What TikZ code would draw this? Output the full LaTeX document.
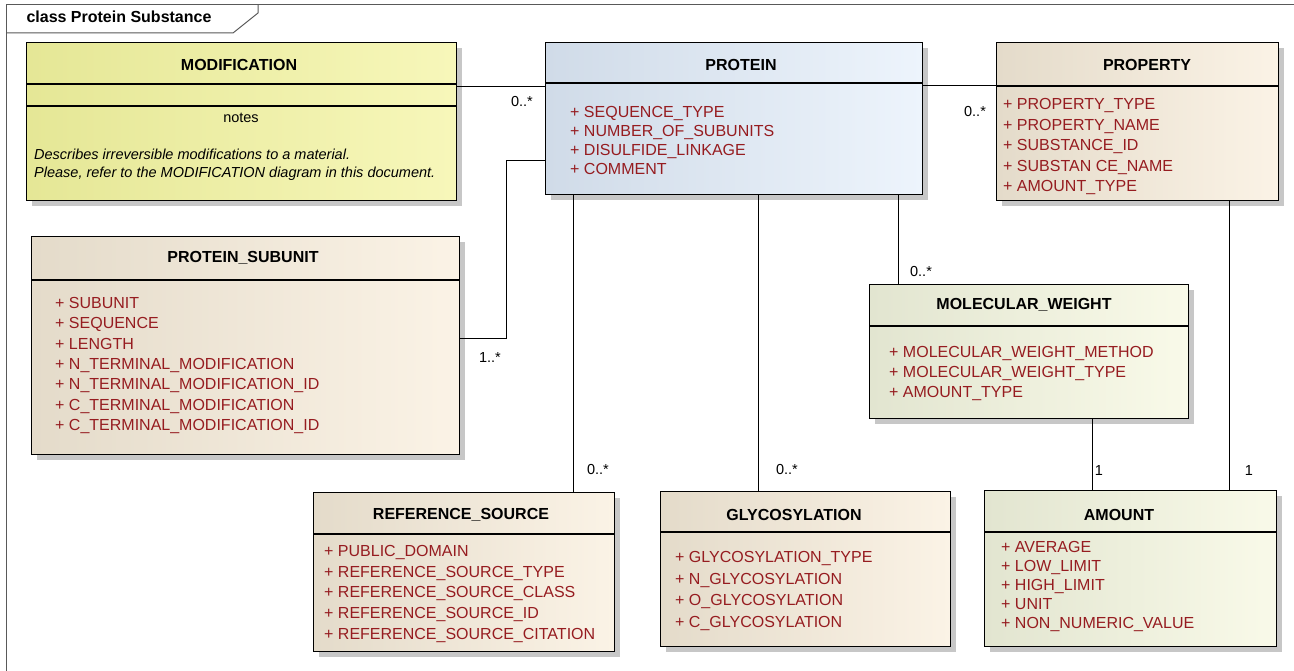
\documentclass[tikz,border=0pt]{standalone}
\usepackage{fontspec}
\setmainfont{Liberation Sans}
\usetikzlibrary{shadows}

\definecolor{attr}{RGB}{150,28,32}
\definecolor{protL}{RGB}{208,219,232}
\definecolor{protR}{RGB}{237,244,252}
\definecolor{tanL}{RGB}{228,219,202}
\definecolor{tanR}{RGB}{251,243,230}
\definecolor{grnL}{RGB}{226,229,208}
\definecolor{grnR}{RGB}{249,250,233}
\definecolor{yelL}{RGB}{229,231,150}
\definecolor{yelR}{RGB}{247,247,186}

\tikzset{
  classbox/.style={draw=black, line width=1.2pt, rectangle, inner sep=0pt,
    anchor=north west,
    general shadow={fill=black!22, shadow xshift=5pt, shadow yshift=-5pt}},
  protbox/.style={classbox, left color=protL, right color=protR},
  tanbox/.style={classbox, left color=tanL, right color=tanR},
  grnbox/.style={classbox, left color=grnL, right color=grnR},
  yelbox/.style={classbox, left color=yelL, right color=yelR},
  hdr/.style={draw=black, line width=1.2pt},
  ctitle/.style={font=\fontsize{16}{19}\selectfont\bfseries, inner sep=0pt},
  attrs/.style={text=attr, align=left, anchor=north west, inner sep=0pt},
  mult/.style={font=\fontsize{14.5}{17}\selectfont, inner sep=0pt},
  assoc/.style={draw=black, line width=1pt},
  frameline/.style={draw=black!65, line width=1pt},
}

\begin{document}
\begin{tikzpicture}[x=1pt, y=-1pt]
\useasboundingbox[fill=white] (0,0) rectangle (1294,671);

% diagram frame and its name tab
\draw[frameline] (6,671) -- (6,5) -- (1294,5);
\draw[frameline] (6,33) -- (233,33) -- (258,13) -- (258,5);
\node[ctitle] (frametitle) at (119,17) {class Protein Substance};

% class boxes
\node[yelbox,  minimum width=430pt, minimum height=158pt] (modif)    at (26,42)  {};
\node[protbox, minimum width=377pt, minimum height=152pt] (protein)  at (545,42) {};
\node[tanbox,  minimum width=282pt, minimum height=158pt] (property) at (996,42) {};
\node[tanbox,  minimum width=428pt, minimum height=218pt] (subunit)  at (31,236) {};
\node[grnbox,  minimum width=319pt, minimum height=134pt] (molw)     at (869,284) {};
\node[tanbox,  minimum width=301pt, minimum height=159pt] (refsrc)   at (313,492) {};
\node[tanbox,  minimum width=290pt, minimum height=155pt] (glyco)    at (660,491) {};
\node[grnbox,  minimum width=292pt, minimum height=156pt] (amount)   at (984,490) {};

% compartment separators
\draw[hdr] (modif.west |- 0,84)    -- (modif.east |- 0,84);
\draw[hdr] (modif.west |- 0,106)   -- (modif.east |- 0,106);
\draw[hdr] (protein.west |- 0,83)  -- (protein.east |- 0,83);
\draw[hdr] (property.west |- 0,86) -- (property.east |- 0,86);
\draw[hdr] (subunit.west |- 0,280) -- (subunit.east |- 0,280);
\draw[hdr] (molw.west |- 0,326)    -- (molw.east |- 0,326);
\draw[hdr] (refsrc.west |- 0,534)  -- (refsrc.east |- 0,534);
\draw[hdr] (glyco.west |- 0,532)   -- (glyco.east |- 0,532);
\draw[hdr] (amount.west |- 0,532)  -- (amount.east |- 0,532);

% class names
\node[ctitle] (modifT)    at (239,65)   {MODIFICATION};
\node[ctitle] (proteinT)  at (741,65)   {PROTEIN};
\node[ctitle] (propertyT) at (1147,65)  {PROPERTY};
\node[ctitle] (subunitT)  at (243,258)  {PROTEIN\_SUBUNIT};
\node[ctitle] (molwT)     at (1024,305) {MOLECULAR\_WEIGHT};
\node[ctitle] (refsrcT)   at (461,515)  {REFERENCE\_SOURCE};
\node[ctitle] (glycoT)    at (794,515)  {GLYCOSYLATION};
\node[ctitle] (amountT)   at (1119,515) {AMOUNT};

% note of MODIFICATION
\node[font=\fontsize{14.5}{17}\selectfont, inner sep=0pt] (modifNotes) at (241,118) {notes};
\node[font=\fontsize{14.5}{18}\selectfont\itshape, align=left, anchor=north west, inner sep=0pt]
  (modifText) at (34,148.7) {Describes irreversible modifications to a material.\\
  Please, refer to the MODIFICATION diagram in this document.};

% attributes
\node[attrs, font=\fontsize{16}{19}\selectfont] (proteinA) at (570,106.2)
  {+ SEQUENCE\_TYPE\\+ NUMBER\_OF\_SUBUNITS\\+ DISULFIDE\_LINKAGE\\+ COMMENT};
\node[attrs, font=\fontsize{16}{20.5}\selectfont] (propertyA) at (1003,98.2)
  {+ PROPERTY\_TYPE\\+ PROPERTY\_NAME\\+ SUBSTANCE\_ID\\+ SUBSTAN CE\_NAME\\+ AMOUNT\_TYPE};
\node[attrs, font=\fontsize{16}{20.3}\selectfont] (subunitA) at (55,297.2)
  {+ SUBUNIT\\+ SEQUENCE\\+ LENGTH\\+ N\_TERMINAL\_MODIFICATION\\+ N\_TERMINAL\_MODIFICATION\_ID\\+ C\_TERMINAL\_MODIFICATION\\+ C\_TERMINAL\_MODIFICATION\_ID};
\node[attrs, font=\fontsize{16}{20}\selectfont] (molwA) at (889,346.2)
  {+ MOLECULAR\_WEIGHT\_METHOD\\+ MOLECULAR\_WEIGHT\_TYPE\\+ AMOUNT\_TYPE};
\node[attrs, font=\fontsize{16}{20.7}\selectfont] (refsrcA) at (324,545.2)
  {+ PUBLIC\_DOMAIN\\+ REFERENCE\_SOURCE\_TYPE\\+ REFERENCE\_SOURCE\_CLASS\\+ REFERENCE\_SOURCE\_ID\\+ REFERENCE\_SOURCE\_CITATION};
\node[attrs, font=\fontsize{16}{21.7}\selectfont] (glycoA) at (675,551.2)
  {+ GLYCOSYLATION\_TYPE\\+ N\_GLYCOSYLATION\\+ O\_GLYCOSYLATION\\+ C\_GLYCOSYLATION};
\node[attrs, font=\fontsize{16}{19}\selectfont] (amountA) at (1001,541.2)
  {+ AVERAGE\\+ LOW\_LIMIT\\+ HIGH\_LIMIT\\+ UNIT\\+ NON\_NUMERIC\_VALUE};

% associations
\coordinate (subBend) at (506,161);
\draw[assoc] (modif.east |- 0,87) -- (protein.west |- 0,87);
\draw[assoc] (protein.east |- 0,86) -- (property.west |- 0,86);
\draw[assoc] (subunit.east |- 0,338) -| (subBend) -- (protein.west |- subBend);
\draw[assoc] (protein.south -| 573,0) -- (refsrc.north -| 573,0);
\draw[assoc] (protein.south -| 758,0) -- (glyco.north -| 758,0);
\draw[assoc] (protein.south -| 898,0) -- (molw.north -| 898,0);
\draw[assoc] (molw.south -| 1092,0) -- (amount.north -| 1092,0);
\draw[assoc] (property.south -| 1229,0) -- (amount.north -| 1229,0);

% multiplicities
\node[mult] (mModif)   at (522,102)  {0..*};
\node[mult] (mProp)    at (975,112)  {0..*};
\node[mult] (mSub)     at (490,358)  {1..*};
\node[mult] (mRef)     at (598,470)  {0..*};
\node[mult] (mGly)     at (787,470)  {0..*};
\node[mult] (mMolw)    at (921,272)  {0..*};
\node[mult] (mAmtMolw) at (1099,471) {1};
\node[mult] (mAmtProp) at (1249,471) {1};
\end{tikzpicture}
\end{document}
